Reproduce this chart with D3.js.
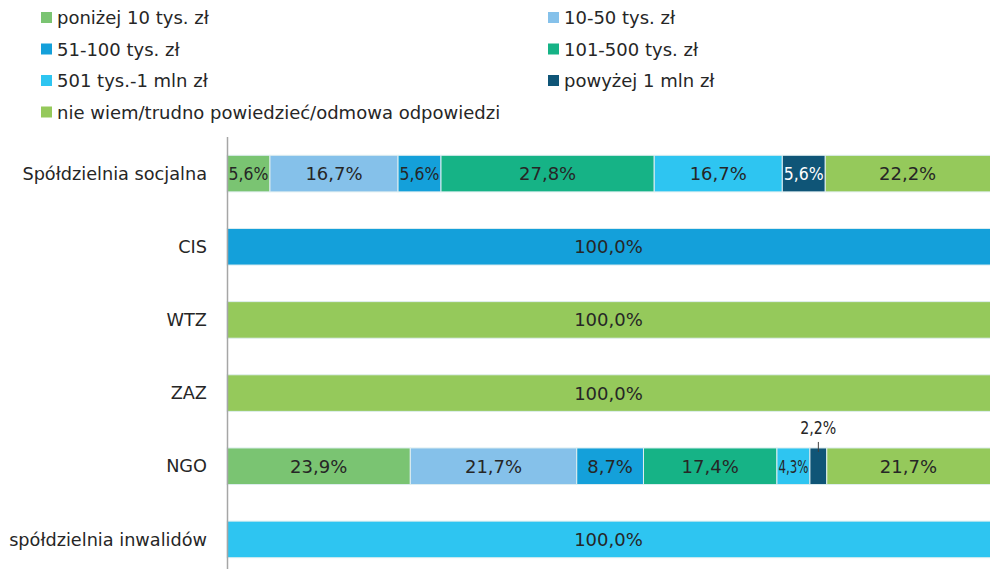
<!DOCTYPE html>
<html>
<head>
<meta charset="utf-8">
<script src="https://cdn.jsdelivr.net/npm/d3@7"></script>
<style>
  body { margin: 0; background: #fff; }
  svg { display: block; font-family: "DejaVu Sans", Verdana, sans-serif; }
</style>
</head>
<body>
<div id="chart"></div>
<script>
// categories (top to bottom)
var categories = ["Spółdzielnia socjalna", "CIS", "WTZ", "ZAZ", "NGO", "spółdzielnia inwalidów"];

// series names as in the legend
var seriesNames = ["poniżej 10 tys. zł", "10-50 tys. zł", "51-100 tys. zł", "101-500 tys. zł",
                   "501 tys.-1 mln zł", "powyżej 1 mln zł", "nie wiem/trudno powiedzieć/odmowa odpowiedzi"];

// values (%) per category, one list per series
var ponizej10 = [5.6, 0, 0, 0, 23.9, 0];
var od10do50 = [16.7, 0, 0, 0, 21.7, 0];
var od51do100 = [5.6, 100, 0, 0, 8.7, 0];
var od101do500 = [27.8, 0, 0, 0, 17.4, 0];
var od501do1mln = [16.7, 0, 0, 0, 4.3, 100];
var powyzej1mln = [5.6, 0, 0, 0, 2.2, 0];
var nieWiem = [22.2, 0, 100, 100, 21.7, 0];

var colors = ["#7ac472", "#85c1ea", "#14a0da", "#16b386", "#2ec5f1", "#0f5577", "#95c95b"];

var seriesValues = [ponizej10, od10do50, od51do100, od101do500, od501do1mln, powyzej1mln, nieWiem];

// build table rows for d3.stack
var keys = seriesNames;
var table = categories.map(function(c, i) {
    var row = {cat: c};
    keys.forEach(function(k, j) { row[k] = seriesValues[j][i]; });
    return row;
});

var width = 990, height = 569;
var svg = d3.select("#chart").append("svg")
    .attr("width", width)
    .attr("height", height);

// scales
var x = d3.scaleLinear().domain([0, 100]).range([227, 994]);
var y = d3.scaleBand().domain(categories).range([137, 576]).paddingInner(0.5).paddingOuter(0.25);

// legend
var legend = svg.append("g").attr("class", "legend");
seriesNames.forEach(function(name, i) {
    var col = i % 2, row = Math.floor(i / 2);
    var lx = col == 0 ? 41 : 548;
    var ly = 18 + row * 31.5;
    legend.append("rect")
        .attr("x", lx).attr("y", ly - 6)
        .attr("width", 11).attr("height", 11)
        .attr("fill", colors[i]);
    legend.append("text")
        .attr("x", lx + 16).attr("y", ly)
        .attr("dy", "0.35em")
        .attr("font-size", 18)
        .attr("fill", "#262626")
        .text(name);
});

var stack = d3.stack().keys(keys);
var stacked = stack(table);

var layers = svg.append("g").selectAll("g")
    .data(stacked)
    .enter().append("g")
    .attr("fill", function(d, i) { return colors[i]; });

layers.selectAll("rect")
    .data(function(d) { return d.filter(function(p) { return p[1] - p[0] > 0; }); })
    .enter().append("rect")
    .attr("x", function(d) { return x(d[0]); })
    .attr("y", function(d) { return y(d.data.cat); })
    .attr("width", function(d) { return x(d[1]) - x(d[0]); })
    .attr("height", y.bandwidth())
    .attr("stroke", "#dfeef0")
    .attr("stroke-width", 1);

// data labels
var fmt = function(v) { return d3.format(".1f")(v).replace(".", ",") + "%"; };
var labels = svg.append("g").attr("font-size", 18);
stacked.forEach(function(layer, li) {
    layer.forEach(function(d) {
        var v = d[1] - d[0];
        if (v <= 0) return;
        var x0 = x(d[0]), x1 = Math.min(x(d[1]), width);
        var w = x(d[1]) - x(d[0]);
        var cx = (x0 + x1) / 2;
        var cy = y(d.data.cat) + y.bandwidth() / 2;
        if (w < 20) {
            // small slice: label above with a short leader
            labels.append("line")
                .attr("x1", cx).attr("x2", cx)
                .attr("y1", y(d.data.cat) - 6).attr("y2", y(d.data.cat) + 4)
                .attr("stroke", "#404040");
            labels.append("text")
                .attr("x", cx).attr("y", y(d.data.cat) - 14)
                .attr("text-anchor", "middle")
                .attr("font-size", 17)
                .attr("fill", "#262626")
                .attr("textLength", 36)
                .attr("lengthAdjust", "spacingAndGlyphs")
                .text(fmt(v));
            return;
        }
        var t = labels.append("text")
            .attr("x", cx).attr("y", cy)
            .attr("dy", "0.36em")
            .attr("text-anchor", "middle")
            .attr("fill", li == 5 ? "#ffffff" : "#262626")
            .text(fmt(v));
        var tl = t.node().getComputedTextLength();
        if (tl > w - 3) {
            t.attr("textLength", w - 3).attr("lengthAdjust", "spacingAndGlyphs");
        }
    });
});

// category labels
svg.append("g").selectAll("text")
    .data(categories)
    .enter().append("text")
    .attr("x", 207)
    .attr("y", function(d) { return y(d) + y.bandwidth() / 2; })
    .attr("dy", "0.35em")
    .attr("text-anchor", "end")
    .attr("font-size", 17.7)
    .attr("fill", "#262626")
    .text(function(d) { return d; });

// vertical axis line
svg.append("line")
    .attr("x1", 227.5).attr("x2", 227.5)
    .attr("y1", 137).attr("y2", height)
    .attr("stroke", "#a6a6a6")
    .attr("stroke-width", 1.5);
</script>
</body>
</html>
